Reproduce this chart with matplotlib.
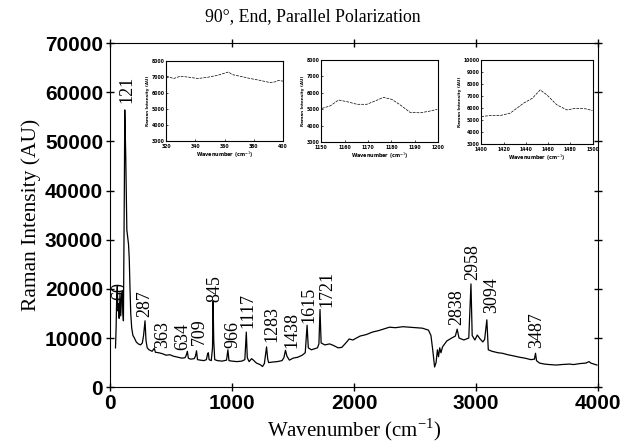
import matplotlib
matplotlib.use("Agg")
import matplotlib.pyplot as plt

# main spectrum (wavenumber cm^-1, intensity AU)
wavenumber = [45, 50, 55, 60, 65, 70, 75, 82, 88, 95, 101, 106, 110, 115, 118, 121, 125, 129, 133, 138,
              145, 152, 158, 164, 170, 178, 188, 200, 215, 232, 250, 265, 275, 287, 295, 305, 320, 345,
              363, 372, 400, 430, 460, 490, 520, 555, 590, 615, 625, 634, 642, 660, 690, 700, 709, 717,
              740, 770, 790, 800, 806, 812, 830, 840, 845, 850, 858, 880, 920, 955, 966, 975, 1000, 1040,
              1080, 1105, 1117, 1125, 1140, 1160, 1175, 1200, 1230, 1250, 1265, 1283, 1292, 1300, 1330,
              1370, 1410, 1425, 1438, 1450, 1470, 1500, 1540, 1575, 1600, 1615, 1625, 1650, 1700, 1712,
              1721, 1730, 1760, 1800, 1830, 1870, 1900, 1940, 1960, 1990, 2020, 2050, 2100, 2150, 2200,
              2250, 2290, 2340, 2400, 2450, 2500, 2560, 2610, 2630, 2645, 2660, 2672, 2683, 2692, 2702,
              2712, 2725, 2760, 2800, 2830, 2845, 2860, 2900, 2940, 2958, 2968, 2990, 3010, 3030, 3055,
              3070, 3088, 3100, 3130, 3180, 3215, 3260, 3300, 3354, 3400, 3450, 3478, 3487, 3495, 3520,
              3560, 3600, 3656, 3700, 3764, 3800, 3850, 3900, 3926, 3940, 3990]
intensity = [8000, 12000, 18500, 20500, 15500, 17000, 14000, 19000, 14500, 18500, 19500, 15000, 13500,
             30000, 42000, 56400, 52000, 47000, 40000, 32000, 30500, 29000, 26000, 20000, 15000, 12000,
             10500, 10000, 9200, 8800, 8600, 9000, 10500, 13500, 9500, 8000, 7600, 7300, 7900, 7100,
             7000, 6800, 6500, 6600, 6300, 6100, 5900, 6000, 6500, 7300, 5900, 5700, 5800, 6300, 7400,
             5600, 5500, 5400, 5600, 6800, 7000, 5600, 5400, 8000, 17500, 9500, 5600, 5400, 5300, 5500,
             7600, 5400, 5300, 5200, 5300, 5600, 11200, 6000, 5200, 5800, 5500, 4900, 4600, 4200, 4800,
             8200, 5800, 5000, 5100, 5200, 5400, 6000, 7500, 6300, 5500, 5900, 6100, 6500, 7000, 12600,
             8000, 7600, 8000, 8800, 15800, 9000, 8600, 8800, 8500, 8000, 8100, 9200, 9800, 9600, 10000,
             10400, 10700, 11200, 11500, 11900, 12200, 12100, 12300, 12200, 12100, 12000, 11600, 10500,
             7500, 4100, 5000, 7600, 6200, 8000, 7000, 8200, 9400, 10000, 10400, 11800, 10000, 9600,
             10000, 21000, 10500, 9600, 10600, 9900, 9200, 9700, 13700, 7600, 7300, 7000, 6900, 6600,
             6400, 6100, 5900, 5600, 5700, 6900, 5400, 4900, 4700, 4600, 4500, 4600, 4700, 4600, 4800,
             4900, 5200, 4900, 4500]

# peak labels: text, x, y of the label's lower end
peak_labels = ["60", "121", "287", "363", "634", "709", "845", "966", "1117", "1283", "1438", "1615",
               "1721", "2838", "2958", "3094", "3487"]
label_x = [82, 140, 286, 433, 600, 736, 859, 1006, 1129, 1325, 1489, 1628, 1775, 2838, 2970, 3125, 3500]
label_y = [17700, 57800, 14200, 7900, 7500, 8500, 17300, 7900, 12000, 9200, 7900, 13000, 16300, 12600,
           21800, 15100, 7900]

# insets
inset1_x = [320, 325, 329.6, 336, 341.6, 348.4, 355, 362.7, 365, 370.7, 377.5, 384, 391, 394.5, 397, 400]
inset1_y = [7080, 6920, 7060, 7000, 6920, 7000, 7120, 7330, 7170, 7060, 6920, 6810, 6670, 6710, 6810, 6750]
inset2_x = [1150.3, 1153.8, 1157.4, 1161, 1165.3, 1169.5, 1173, 1176.6, 1180.2, 1183.8, 1188, 1192.3,
            1196.6, 1199.6]
inset2_y = [5050, 5200, 5560, 5460, 5300, 5300, 5500, 5720, 5600, 5260, 4810, 4780, 4890, 4990]
inset3_x = [1400, 1408, 1417, 1426, 1438, 1446, 1453, 1459, 1468, 1477, 1485, 1494, 1500]
inset3_y = [5280, 5360, 5360, 5560, 6390, 6810, 7500, 7080, 6250, 5830, 5970, 5920, 5780]

serif = "Liberation Serif"
sans = "Liberation Sans"

fig = plt.figure(figsize=(6.25, 4.44), dpi=100)
ax = fig.add_axes([0.176, 0.128, 0.781, 0.775])
ax.plot(wavenumber, intensity, color="black", lw=0.9)
ax.set_xlim(0, 4000)
ax.set_ylim(0, 70000)
ax.set_xticks(range(0, 4001, 1000))
ax.set_yticks(range(0, 70001, 10000))
ax.tick_params(direction="inout", length=6, width=1, top=True, right=True, pad=2)
for lab in ax.get_xticklabels() + ax.get_yticklabels():
    lab.set_fontfamily(sans)
    lab.set_fontweight("bold")
    lab.set_fontsize(15)
ax.set_xlabel("Wavenumber (cm$^{\\mathregular{-1}}$)", fontfamily=serif, fontsize=15, labelpad=2)
ax.set_ylabel("Raman Intensity (AU)", fontfamily=serif, fontsize=15.5, labelpad=3)
fig.text(0.5, 1 - 17 / 444, "90°, End, Parallel Polarization", fontfamily=serif, fontsize=12.8,
         ha="center", va="center")

for txt, lx, ly in zip(peak_labels, label_x, label_y):
    ax.text(lx, ly, txt, rotation=90, ha="center", va="bottom", fontfamily=serif, fontsize=13)


def draw_inset(rect, xs, ys, xlim, xticks, ylim, yticks):
    ins = fig.add_axes(rect)
    ins.plot(xs, ys, color="black", lw=0.5, ls=(0, (4, 1.5)))
    ins.set_xlim(*xlim)
    ins.set_ylim(*ylim)
    ins.set_xticks(xticks)
    ins.set_yticks(yticks)
    ins.tick_params(direction="in", length=1.5, width=0.5, labelsize=3.3)
    ins.tick_params(axis="x", pad=2)
    ins.tick_params(axis="y", pad=1)
    for lab in ins.get_xticklabels() + ins.get_yticklabels():
        lab.set_fontweight("bold")
    ins.set_xlabel("Wavenumber (cm$^{-1}$)", fontsize=3.5, fontweight="bold", labelpad=0.5)
    ins.set_ylabel("Raman Intensity (AU)", fontsize=3, fontweight="bold", labelpad=1)
    for s in ins.spines.values():
        s.set_linewidth(0.8)
    return ins


draw_inset([0.266, 0.682, 0.187, 0.180], inset1_x, inset1_y, (320, 400), range(320, 401, 20),
           (3000, 8000), range(3000, 8001, 1000))
draw_inset([0.514, 0.680, 0.187, 0.185], inset2_x, inset2_y, (1150, 1200), range(1150, 1201, 10),
           (3000, 8000), range(3000, 8001, 1000))
draw_inset([0.770, 0.676, 0.178, 0.189], inset3_x, inset3_y, (1400, 1500), range(1400, 1501, 20),
           (3000, 10000), range(3000, 10001, 1000))

fig.savefig("out.png", dpi=100)
